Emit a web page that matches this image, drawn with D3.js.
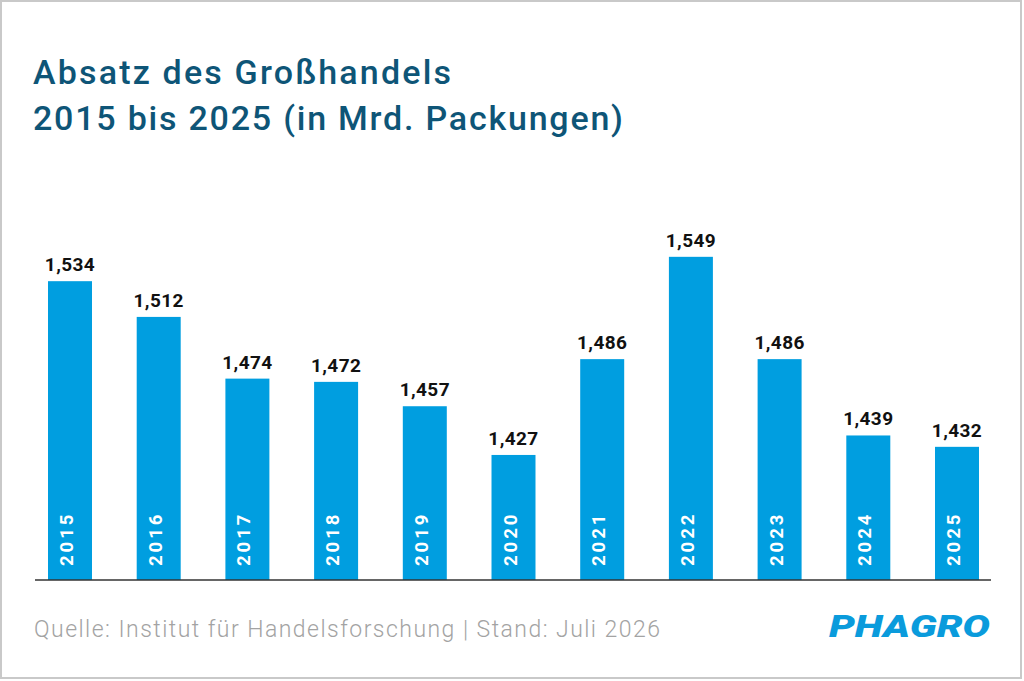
<!DOCTYPE html>
<html>
<head>
<meta charset="utf-8">
<script src="https://cdn.jsdelivr.net/npm/d3@7"></script>
<style>
  html, body { margin: 0; padding: 0; background: #fff; }
  #chart { width: 1024px; height: 681px; }
  text { font-family: Roboto, "DejaVu Sans", sans-serif; }
</style>
</head>
<body>
<div id="chart"></div>
<script>
const years = ["2015", "2016", "2017", "2018", "2019", "2020", "2021", "2022", "2023", "2024", "2025"];
const sales = [1.534, 1.512, 1.474, 1.472, 1.457, 1.427, 1.486, 1.549, 1.486, 1.439, 1.432];
const titleLines = ["Absatz des Großhandels", "2015 bis 2025 (in Mrd. Packungen)"];
const sourceText = "Quelle: Institut für Handelsforschung | Stand: Juli 2026";
const logoText = "PHAGRO";

const width = 1024;
const height = 681;
const titleWidths = [418, 590];

const de = d3.formatLocale({ decimal: ",", thousands: ".", grouping: [3], currency: ["", " €"] });
const fmt = de.format(".3f");

const svg = d3.select("#chart")
  .append("svg")
  .attr("width", width)
  .attr("height", height)
  .attr("viewBox", `0 0 ${width} ${height}`);

// frame
svg.append("rect")
  .attr("x", 1)
  .attr("y", 1)
  .attr("width", 1020)
  .attr("height", 677)
  .attr("fill", "#fff")
  .attr("stroke", "#c9c9c9")
  .attr("stroke-width", 2);

// title
svg.append("g")
  .selectAll("text")
  .data(titleLines)
  .enter()
  .append("text")
  .attr("x", 33)
  .attr("y", (d, i) => 84 + i * 46)
  .attr("textLength", (d, i) => titleWidths[i])
  .attr("lengthAdjust", "spacing")
  .text(d => d)
  .style("fill", "#0e5577")
  .style("font-size", "34px")
  .style("font-weight", 500);

const xScale = d3.scaleBand()
  .domain(years)
  .range([48, 979])
  .paddingInner(0.504)
  .paddingOuter(0);

const yScale = d3.scaleLinear()
  .domain([1.35, 1.6])
  .range([580, 174]);

const data = years.map((y, i) => ({ year: y, value: sales[i] }));

svg.append("g")
  .selectAll(".bar")
  .data(data)
  .enter()
  .append("rect")
  .attr("class", "bar")
  .attr("x", d => xScale(d.year))
  .attr("y", d => yScale(d.value))
  .attr("width", xScale.bandwidth())
  .attr("height", d => yScale(1.35) - yScale(d.value))
  .attr("fill", "#009ee0");

// value labels
svg.append("g")
  .selectAll(".value")
  .data(data)
  .enter()
  .append("text")
  .attr("class", "value")
  .attr("x", d => xScale(d.year) + xScale.bandwidth() / 2)
  .attr("y", d => yScale(d.value) - 10)
  .attr("text-anchor", "middle")
  .text(d => fmt(d.value))
  .style("fill", "#111")
  .style("font-size", "19px")
  .style("font-weight", 700)
  .style("letter-spacing", "0.4px");

// year labels inside bars
svg.append("g")
  .selectAll(".year")
  .data(data)
  .enter()
  .append("text")
  .attr("class", "year")
  .attr("transform", d => `translate(${xScale(d.year) + xScale.bandwidth() / 2 + 3},566) rotate(-90)`)
  .text(d => d.year)
  .style("fill", "#fff")
  .style("font-size", "18.5px")
  .style("font-weight", 700)
  .style("letter-spacing", "3px");

// baseline
svg.append("line")
  .attr("x1", 35)
  .attr("x2", 991)
  .attr("y1", yScale(1.35))
  .attr("y2", yScale(1.35))
  .attr("stroke", "#333")
  .attr("stroke-width", 1.6);

// footer
svg.append("text")
  .attr("x", 34)
  .attr("y", 637)
  .attr("textLength", 626)
  .attr("lengthAdjust", "spacing")
  .text(sourceText)
  .style("fill", "#a3a3a3")
  .style("font-size", "23px")
  .style("font-weight", 300);

svg.append("text")
  .attr("x", 829)
  .attr("y", 637)
  .attr("textLength", 161)
  .attr("lengthAdjust", "spacingAndGlyphs")
  .text(logoText)
  .style("fill", "#0a9bdc")
  .style("font-size", "31px")
  .style("font-weight", 900)
  .style("font-style", "italic");
</script>
</body>
</html>
